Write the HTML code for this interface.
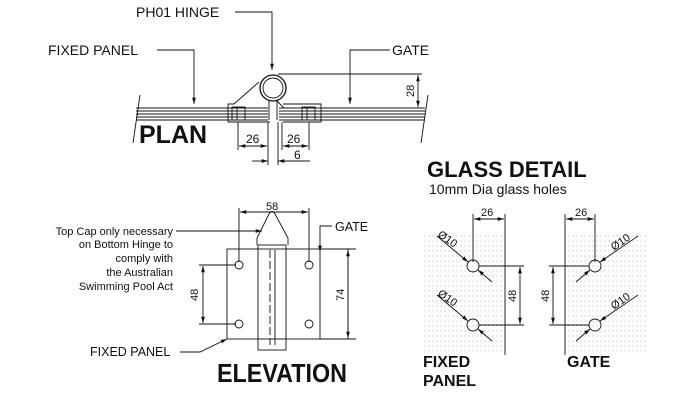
<!DOCTYPE html>
<html><head><style>body{margin:0;background:#fff}svg{display:block}text{font-family:"Liberation Sans",sans-serif;fill:#111}</style></head><body>
<svg width="700" height="400" viewBox="0 0 700 400" xmlns="http://www.w3.org/2000/svg">
<defs>
<marker id="a" viewBox="0 0 10 10" refX="10" refY="5" markerWidth="7" markerHeight="7" orient="auto-start-reverse"><path d="M0,2L10,5L0,8z" fill="#111"/></marker>
<pattern id="dots" width="4" height="5" patternUnits="userSpaceOnUse"><circle cx="1" cy="1" r="0.55" fill="#999"/></pattern>
</defs>
<g stroke="#111" stroke-width="0.9" fill="none">
<line x1="136" y1="108" x2="268" y2="108"/><line x1="136" y1="111" x2="268" y2="111"/><line x1="136" y1="114" x2="268" y2="114"/><line x1="136" y1="117" x2="268" y2="117"/><line x1="136" y1="120" x2="268" y2="120"/>
<line x1="279" y1="108" x2="425" y2="108"/><line x1="279" y1="111" x2="425" y2="111"/><line x1="279" y1="114" x2="425" y2="114"/><line x1="279" y1="117" x2="425" y2="117"/><line x1="279" y1="120" x2="425" y2="120"/>
<line x1="140" y1="95" x2="133" y2="143"/><line x1="428" y1="95" x2="421" y2="143"/>
<path d="M228,122 V104 H234 L259,82"/><line x1="228" y1="122" x2="270" y2="122"/>
<path d="M283,104 H321 V122 H283"/>
<rect x="232" y="107" width="13" height="13"/><rect x="302" y="107" width="13" height="13"/>
<line x1="237" y1="107" x2="237" y2="120"/><line x1="307" y1="107" x2="307" y2="120"/>
<circle cx="273" cy="88" r="13" stroke-width="1.3"/><circle cx="273" cy="88" r="10"/>
<path d="M269,100 V120 M277,100 V120 M276,100 L284,108"/>
<path d="M235,12 H272 V70" marker-end="url(#a)"/>
<path d="M157,50 H194 V104" marker-end="url(#a)"/>
<path d="M390,50 H350 V104" marker-end="url(#a)"/>
<line x1="278" y1="74" x2="422" y2="74"/>
<line x1="418" y1="75" x2="418" y2="107" marker-start="url(#a)" marker-end="url(#a)"/>
<path d="M238,122 V150 M268,122 V165 M282,122 V150 M309,122 V150 M278,122 V165"/>
<line x1="239" y1="146" x2="267" y2="146" marker-start="url(#a)" marker-end="url(#a)"/>
<line x1="283" y1="146" x2="308" y2="146" marker-start="url(#a)" marker-end="url(#a)"/>
<line x1="252" y1="161" x2="268" y2="161" marker-end="url(#a)"/>
<line x1="310" y1="161" x2="278" y2="161" marker-end="url(#a)"/>
<rect x="227" y="249" width="121" height="90"/>
<line x1="320" y1="249" x2="320" y2="339"/>
<rect x="258" y="245" width="28" height="105"/>
<line x1="270" y1="250" x2="270" y2="345" stroke-dasharray="8 3"/>
<line x1="275" y1="250" x2="275" y2="345"/>
<path d="M257,245 V238 L269,214 Q272,209 275,214 L288,238 V245"/>
<circle cx="239" cy="265" r="4"/><circle cx="309" cy="265" r="4"/><circle cx="239" cy="324" r="4"/><circle cx="309" cy="324" r="4"/>
<path d="M239,262 V208 M309,262 V208"/>
<line x1="240" y1="212" x2="308" y2="212" marker-start="url(#a)" marker-end="url(#a)"/>
<path d="M199,265 H236 M199,324 H236"/>
<line x1="203" y1="266" x2="203" y2="323" marker-start="url(#a)" marker-end="url(#a)"/>
<path d="M320,249 H356 M320,339 H356"/>
<line x1="348" y1="250" x2="348" y2="338" marker-start="url(#a)" marker-end="url(#a)"/>
<path d="M176,231 H250 L262,231" marker-end="url(#a)"/>
<path d="M332,226 H320 V252" marker-end="url(#a)"/>
<path d="M180,352 H200 L227,339" marker-end="url(#a)"/>
<rect x="423" y="235" width="82" height="120" fill="url(#dots)" stroke="none"/>
<line x1="505" y1="214" x2="505" y2="355"/>
<line x1="473" y1="214" x2="473" y2="262"/>
<line x1="474" y1="219" x2="504" y2="219" marker-start="url(#a)" marker-end="url(#a)"/>
<circle cx="473" cy="266" r="6"/><circle cx="473" cy="325" r="6"/>
<path d="M479,266 H524 M479,325 H524"/>
<line x1="520" y1="267" x2="520" y2="324" marker-start="url(#a)" marker-end="url(#a)"/>
<line x1="437" y1="236" x2="468" y2="262" marker-end="url(#a)"/><line x1="492" y1="282" x2="478" y2="270" marker-end="url(#a)"/>
<line x1="437" y1="295" x2="468" y2="321" marker-end="url(#a)"/><line x1="492" y1="341" x2="478" y2="329" marker-end="url(#a)"/>
<rect x="565" y="235" width="82" height="120" fill="url(#dots)" stroke="none"/>
<line x1="565" y1="214" x2="565" y2="355"/>
<line x1="595" y1="214" x2="595" y2="262"/>
<line x1="566" y1="219" x2="594" y2="219" marker-start="url(#a)" marker-end="url(#a)"/>
<circle cx="595" cy="266" r="6"/><circle cx="595" cy="325" r="6"/>
<path d="M549,266 H589 M549,325 H589"/>
<line x1="553" y1="267" x2="553" y2="324" marker-start="url(#a)" marker-end="url(#a)"/>
<line x1="638" y1="236" x2="600" y2="262" marker-end="url(#a)"/><line x1="576" y1="282" x2="590" y2="270" marker-end="url(#a)"/>
<line x1="638" y1="295" x2="600" y2="321" marker-end="url(#a)"/><line x1="576" y1="341" x2="590" y2="329" marker-end="url(#a)"/>
</g>
<text x="136" y="17" font-size="14">PH01 HINGE</text>
<text x="48" y="55" font-size="14">FIXED PANEL</text>
<text x="392" y="55" font-size="14">GATE</text>
<text x="139" y="143" font-size="25" font-weight="bold">PLAN</text>
<text x="246" y="143" font-size="12">26</text><text x="287" y="143" font-size="12">26</text><text x="294" y="159" font-size="12">6</text>
<text transform="translate(414,97) rotate(-90)" font-size="11">28</text>
<text x="427" y="177" font-size="22" font-weight="bold">GLASS DETAIL</text>
<text x="429" y="194" font-size="14">10mm Dia glass holes</text>
<g font-size="11" text-anchor="end"><text x="173" y="235">Top Cap only necessary</text><text x="173" y="248">on Bottom Hinge to</text><text x="173" y="262">comply with</text><text x="173" y="276">the Australian</text><text x="173" y="290">Swimming Pool Act</text></g>
<text x="90" y="356" font-size="12.5">FIXED PANEL</text>
<text x="335" y="231" font-size="12.5">GATE</text>
<text x="266" y="210" font-size="11">58</text>
<text transform="translate(198,301) rotate(-90)" font-size="11">48</text>
<text transform="translate(344,301) rotate(-90)" font-size="11">74</text>
<text x="217" y="382" font-size="26" font-weight="bold" textLength="130" lengthAdjust="spacingAndGlyphs">ELEVATION</text>
<text x="481" y="216" font-size="11">26</text><text x="575" y="216" font-size="11">26</text>
<text transform="translate(516,302) rotate(-90)" font-size="11">48</text>
<text transform="translate(549,302) rotate(-90)" font-size="11">48</text>
<text transform="translate(437,236) rotate(35)" font-size="11">Ø10</text>
<text transform="translate(437,295) rotate(35)" font-size="11">Ø10</text>
<text transform="translate(614,251) rotate(-35)" font-size="11">Ø10</text>
<text transform="translate(614,310) rotate(-35)" font-size="11">Ø10</text>
<text x="423" y="367" font-size="16" font-weight="bold">FIXED</text>
<text x="423" y="386" font-size="16" font-weight="bold">PANEL</text>
<text x="567" y="367" font-size="16" font-weight="bold">GATE</text>
</svg>
</body></html>
